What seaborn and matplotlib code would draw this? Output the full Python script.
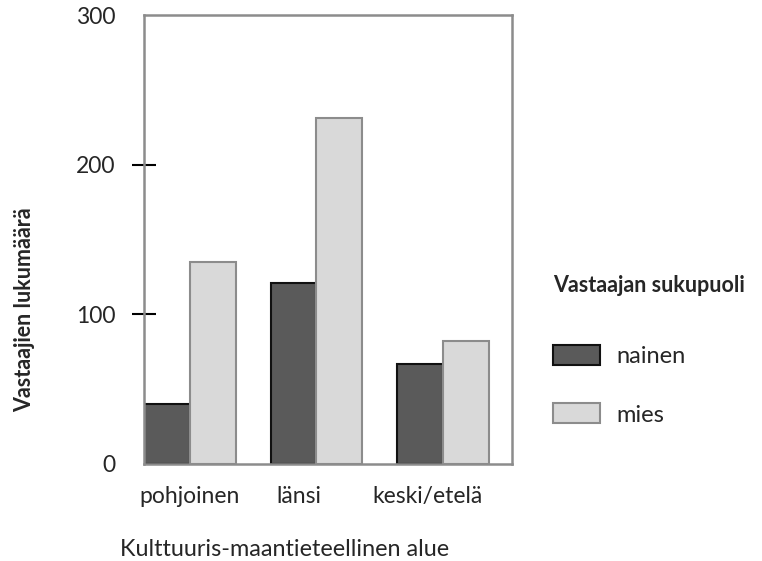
import seaborn as sns
import matplotlib.pyplot as plt
import matplotlib.patches as mpatches
import pandas as pd

alueet = ['pohjoinen', 'länsi', 'keski/etelä']
nainen = [40, 121, 67]
mies = [135, 231, 82]
sukupuolet = ['nainen', 'mies']

df = pd.DataFrame({
    'alue': alueet * 2,
    'sukupuoli': ['nainen'] * 3 + ['mies'] * 3,
    'lkm': nainen + mies,
})

sns.set_style('white')
plt.rcParams['font.family'] = ['Lato', 'DejaVu Sans']

fig = plt.figure(figsize=(7.62, 5.61), dpi=100)
ax = fig.add_axes([144 / 762, 1 - 464 / 561, 368 / 762, 449 / 561])

varit = {'nainen': '#5a5a5a', 'mies': '#d9d9d9'}
reunat = {'nainen': '#111111', 'mies': '#8c8c8c'}
sns.barplot(data=df, x='alue', y='lkm', hue='sukupuoli', hue_order=sukupuolet,
            palette=varit, width=0.727, saturation=1, ax=ax, legend=False)

# reunat: tummat palkit mustalla, vaaleat harmaalla
for cont, s in zip(ax.containers, sukupuolet):
    for bar in cont:
        bar.set_edgecolor(reunat[s])
        bar.set_linewidth(1.5)

ax.set_xlim(-0.364, 2.546)
ax.set_ylim(0, 300)
ax.set_yticks([0, 100, 200, 300])
# kategorianimet hieman vasemmalle kuten alkuperäisessä
ax.set_xticks([0, 0.86, 1.88], alueet)
ax.set_xlabel('')
ax.set_ylabel('')
ax.tick_params(axis='y', direction='inout', length=17, width=1.5, color='black',
               labelsize=16.5, pad=12, left=True)
ax.tick_params(axis='x', bottom=False, labelsize=16.5, pad=12)
yt = ax.yaxis.get_major_ticks()
yt[0].tick1line.set_visible(False)
yt[-1].tick1line.set_visible(False)
for sp in ax.spines.values():
    sp.set_visible(True)
    sp.set_color('#8c8c8c')
    sp.set_linewidth(1.8)

fig.text(25 / 762, 1 - 310 / 561, 'Vastaajien lukumäärä', rotation=90,
         ha='center', va='center', fontsize=15.5, fontweight='bold')
fig.text(285 / 762, 1 - 550 / 561, 'Kulttuuris-maantieteellinen alue',
         ha='center', va='center', fontsize=16.8)

kahvat = [mpatches.Patch(facecolor=varit[s], edgecolor=reunat[s], linewidth=1.5)
          for s in sukupuolet]
leg = fig.legend(kahvat, sukupuolet, title='Vastaajan sukupuoli',
                 loc='upper left', bbox_to_anchor=(553 / 762, 1 - 275 / 561),
                 frameon=False, fontsize=17, title_fontsize=15.5,
                 handlelength=2.0, handleheight=0.93, labelspacing=1.55,
                 handletextpad=0.68, borderpad=0, borderaxespad=0)
leg.get_title().set_fontweight('bold')
leg._legend_box.align = 'left'
leg._legend_box.sep = 35

fig.savefig('out.png', dpi=100)
